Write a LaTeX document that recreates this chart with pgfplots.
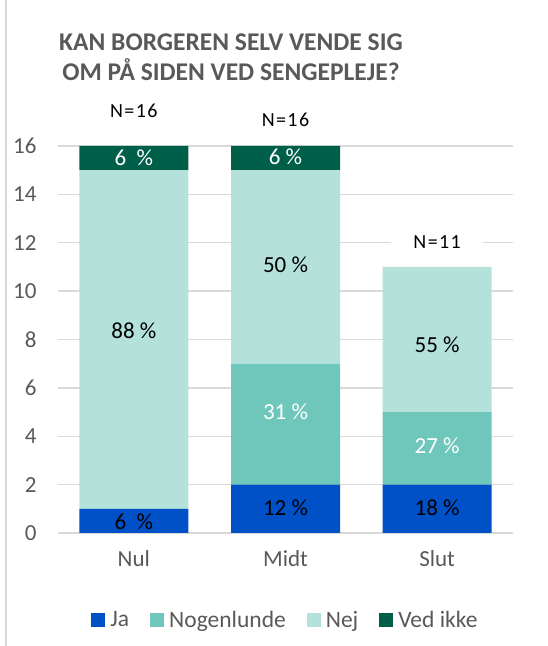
\documentclass[border=0pt]{standalone}
\usepackage{pgfplots}
\pgfplotsset{compat=1.18}
\usepackage{fontspec}
\setmainfont{Carlito}
\definecolor{ja}{HTML}{0050C8}
\definecolor{nog}{HTML}{6EC7BA}
\definecolor{nej}{HTML}{B4E2DB}
\definecolor{ved}{HTML}{005F49}
\definecolor{txtgray}{HTML}{595959}
\definecolor{gridgray}{HTML}{D9D9D9}
\tikzset{lab/.style={font=\fontsize{23}{27}\selectfont},
  nlab/.style={font=\fontsize{20}{24}\selectfont\addfontfeature{LetterSpace=7}, text=black, fill=white, inner xsep=22pt, inner ysep=3pt}}
\begin{document}
\begin{tikzpicture}
\path[use as bounding box] (0,0) rectangle (547pt,646pt);
\draw[color=gridgray, line width=1.5pt] (6pt,0) -- (6pt,646pt);
\node[font=\fontsize{25.5}{30}\selectfont\bfseries, text=txtgray, anchor=base] at (231pt,595pt) {KAN BORGEREN SELV VENDE SIG};
\node[font=\fontsize{25.5}{30}\selectfont\bfseries, text=txtgray, anchor=base] at (231pt,565pt) {OM PÅ SIDEN VED SENGEPLEJE?};
\begin{axis}[
  at={(58pt,113pt)}, anchor=south west,
  scale only axis, width=455pt, height=387pt,
  xmin=-0.5, xmax=2.5, ymin=0, ymax=16,
  ybar stacked, bar width=109pt,
  clip=false,
  axis line style={draw=none},
  tick style={draw=none},
  ymajorgrids, grid style={gridgray, line width=1.3pt},
  ytick={0,2,...,16},
  xtick={0,1,2}, xticklabels={Nul,Midt,Slut},
  /pgf/number format/assume math mode=true,
  yticklabel style={font=\fontsize{23}{27}\selectfont, text=txtgray, xshift=-18pt},
  xticklabel style={font=\fontsize{23}{27}\selectfont, text=txtgray, yshift=-14pt},
  legend style={at={(0.5,-0.225)}, anchor=center, draw=none,
    font=\fontsize{23.5}{28}\selectfont, text=txtgray,
    /tikz/every even column/.append style={column sep=19pt}},
  legend columns=4, legend cell align=left,
  legend image code/.code={\fill[#1] (0pt,-7pt) rectangle (14pt,7pt); \path (17pt,0pt);},
]
\addplot[fill=ja, draw=none] coordinates {(0,1) (1,2) (2,2)};
\addplot[fill=nog, draw=none] coordinates {(0,0) (1,5) (2,3)};
\addplot[fill=nej, draw=none] coordinates {(0,14) (1,8) (2,6)};
\addplot[fill=ved, draw=none] coordinates {(0,1) (1,1) (2,0)};
\legend{Ja,Nogenlunde,Nej,Ved ikke}
\coordinate (a1) at (axis cs:0,0.45);
\coordinate (a2) at (axis cs:0,8.35);
\coordinate (a3) at (axis cs:0,15.5);
\coordinate (b1) at (axis cs:1,1.03);
\coordinate (b2) at (axis cs:1,5.0);
\coordinate (b3) at (axis cs:1,11.08);
\coordinate (b4) at (axis cs:1,15.55);
\coordinate (c1) at (axis cs:2,1.03);
\coordinate (c2) at (axis cs:2,3.62);
\coordinate (c3) at (axis cs:2,7.8);
\coordinate (n1) at (axis cs:0,17.45);
\coordinate (n2) at (axis cs:1,17.07);
\coordinate (n3) at (axis cs:2,12.04);
\end{axis}
\node[lab, text=black] at (a1) {6\ \ \%};
\node[lab, text=black] at (a2) {88 \%};
\node[lab, text=white] at (a3) {6\ \ \%};
\node[lab, text=black] at (b1) {12 \%};
\node[lab, text=white] at (b2) {31 \%};
\node[lab, text=black] at (b3) {50 \%};
\node[lab, text=white] at (b4) {6 \%};
\node[lab, text=black] at (c1) {18 \%};
\node[lab, text=white] at (c2) {27 \%};
\node[lab, text=black] at (c3) {55 \%};
\node[nlab] at (n1) {N=16};
\node[nlab] at (n2) {N=16};
\node[nlab] at (n3) {N=11};
\end{tikzpicture}
\end{document}
